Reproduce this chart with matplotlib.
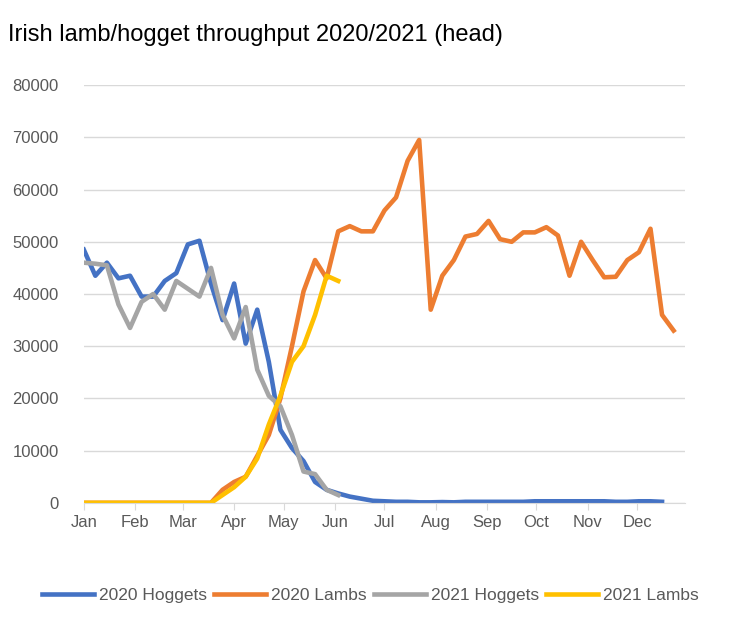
import matplotlib
matplotlib.use("Agg")
import matplotlib.pyplot as plt
import numpy as np

plt.rcParams["font.family"] = "Liberation Sans"

months = ["Jan","Feb","Mar","Apr","May","Jun","Jul","Aug","Sep","Oct","Nov","Dec"]
month_days = [0,31,60,91,121,152,182,213,244,274,305,335]

hoggets_2020 = [48500,43500,46000,43000,43500,39500,39500,42500,44000,49500,50200,42000,35000,42000,30500,37000,27000,14000,10500,8000,4000,2500,1800,1200,800,400,300,200,200,100,100,150,100,200,200,200,200,200,200,300,300,300,300,300,300,300,200,200,300,300,200]
lambs_2020 = [0,0,0,0,0,0,0,0,0,0,0,0,2500,4000,5000,9000,13000,20000,30000,40500,46500,43000,52000,53000,52000,52000,56000,58500,65500,69500,37000,43500,46500,51000,51500,54000,50500,50000,51800,51800,52800,51200,43500,50000,46500,43200,43300,46500,48000,52500,36000,33000]
hoggets_2021 = [46000,45800,45500,38000,33500,38500,40000,37000,42500,41000,39500,45000,36000,31500,37500,25500,20500,18500,13000,6000,5500,2500,1500]
lambs_2021 = [0,0,0,0,0,0,0,0,0,0,0,0,1500,3000,5000,8500,15000,20500,27000,30000,36000,43500,42500]

fig = plt.figure(figsize=(7.48,6.17), dpi=100)
ax = fig.add_axes([0.112,0.185,0.804,0.677])
series = [("2020 Hoggets",hoggets_2020,"#4472C4"),("2020 Lambs",lambs_2020,"#ED7D31"),
          ("2021 Hoggets",hoggets_2021,"#A5A5A5"),("2021 Lambs",lambs_2021,"#FFC000")]
for name,vals,c in series:
    x = np.arange(len(vals))*7.0
    ax.plot(x, vals, color=c, lw=3.3, label=name)
ax.set_xlim(0,364)
ax.set_ylim(0,80000)
ax.set_yticks(range(0,80001,10000))
ax.set_xticks(month_days)
ax.set_xticklabels(months)
ax.grid(axis="y", color="#D9D9D9", lw=1)
ax.set_axisbelow(True)
for s in ["top","right","left"]:
    ax.spines[s].set_visible(False)
ax.spines["bottom"].set_color("#D9D9D9")
ax.tick_params(axis="y", length=0, labelsize=12, colors="#595959", pad=18)
ax.tick_params(axis="x", length=5, color="#D9D9D9", labelsize=12, labelcolor="#595959")
fig.text(0.011,0.943,"Irish lamb/hogget throughput 2020/2021 (head)", fontsize=17, va="center")
fig.legend(loc="center", bbox_to_anchor=(0.495,0.035), ncol=4, frameon=False, fontsize=12.5,
           handlelength=3, columnspacing=0.4, handletextpad=0.3, labelcolor="#595959")
fig.savefig("out.png", dpi=100, facecolor="white")
